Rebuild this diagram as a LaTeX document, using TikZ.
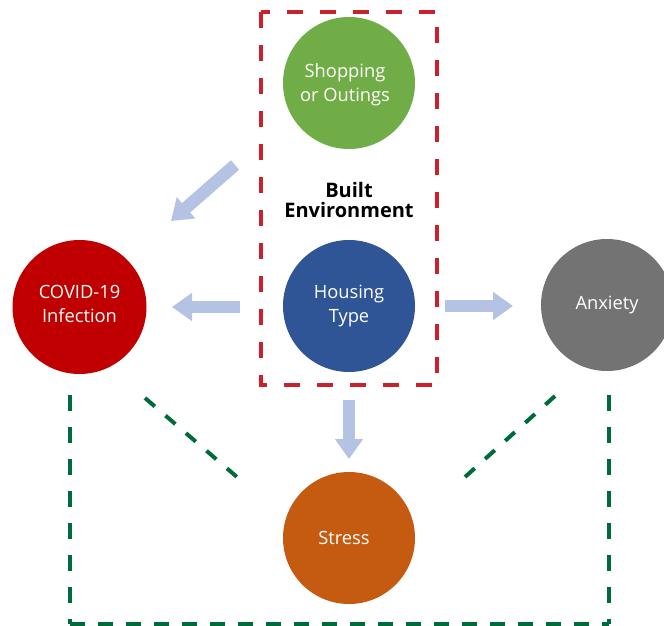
\documentclass[tikz,border=0pt]{standalone}
\usepackage{fontspec}
\setmainfont{Open Sans}
\usetikzlibrary{arrows.meta}
\definecolor{bgreen}{HTML}{70AD47}
\definecolor{bblue}{HTML}{2F5597}
\definecolor{bred}{HTML}{C00000}
\definecolor{bgray}{HTML}{737373}
\definecolor{borange}{HTML}{C55A11}
\definecolor{arrowblue}{HTML}{B4C3E3}
\definecolor{boxred}{HTML}{C9222C}
\definecolor{boxgreen}{HTML}{006B3A}
\tikzset{
  circ/.style={circle, minimum size=132pt, inner sep=0pt, text=white, align=center, font=\fontsize{18.3}{24}\selectfont},
  blockarrow/.style={draw=arrowblue, line width=12.5pt, -{Triangle[width=27pt,length=20pt]}},
  reddash/.style={draw=boxred, line width=4pt, dash pattern=on 16pt off 17pt},
  greendash/.style={draw=boxgreen, line width=4pt, dash pattern=on 16pt off 16pt},
}
\begin{document}
\begin{tikzpicture}[x=1pt,y=-1pt]
\useasboundingbox (0,0) rectangle (664,626);
% red dashed box
\draw[reddash] (261,12) rectangle (437,385);
% circles
\node[circ, fill=bgreen] (shop) at (349,83) {};
\node[text=white, align=center, font=\fontsize{18.3}{24}\selectfont] (shoptext) at (345,85) {Shopping\\or Outings};
\node[circ, fill=bblue] (house) at (349,306) {Housing\\Type};
\node[circ, fill=bred, minimum size=134pt] (covid) at (79.5,307) {};
\node[text=white, align=center, font=\fontsize{18.3}{24}\selectfont] (covidtext) at (79.5,304) {COVID-19\\Infection};
\node[circ, fill=bgray] (anx) at (607,305) {Anxiety};
\node[circ, fill=borange] (stress) at (349,538) {};
\node[text=white, font=\fontsize{18.3}{24}\selectfont] (stresstext) at (344,538) {Stress};
\node[font=\bfseries\fontsize{20}{20}\selectfont, align=center] (built) at (349,200) {Built\\Environment};
% arrows
\coordinate (a1s) at (235,165);
\coordinate (a1e) at (171,221);
\coordinate (a2s) at (240,307);
\coordinate (a2e) at (172,307);
\coordinate (a3s) at (445,306);
\coordinate (a3e) at (513,306);
\coordinate (a4s) at (349,400);
\coordinate (a4e) at (349,459);
\draw[blockarrow] (a1s) -- (a1e);
\draw[blockarrow] (a2s) -- (a2e);
\draw[blockarrow] (a3s) -- (a3e);
\draw[blockarrow] (a4s) -- (a4e);
% green dashed lines
\coordinate (gl1) at (70,395);
\coordinate (gl2) at (70,624);
\coordinate (gr1) at (609,395);
\coordinate (gr2) at (609,624);
\draw[greendash] (gl1) -- (gl2);
\draw[greendash] (gr1) -- (gr2);
\draw[boxgreen, line width=4pt, dash pattern=on 15pt off 13pt] (gl2) -- (gr2);
\coordinate (d1s) at (145,398);
\coordinate (d1e) at (237,477);
\coordinate (d2s) at (555,396);
\coordinate (d2e) at (465,477);
\draw[boxgreen, line width=4pt, dash pattern=on 13pt off 14pt] (d1s) -- (d1e);
\draw[boxgreen, line width=4pt, dash pattern=on 13pt off 14pt] (d2s) -- (d2e);
\end{tikzpicture}
\end{document}
